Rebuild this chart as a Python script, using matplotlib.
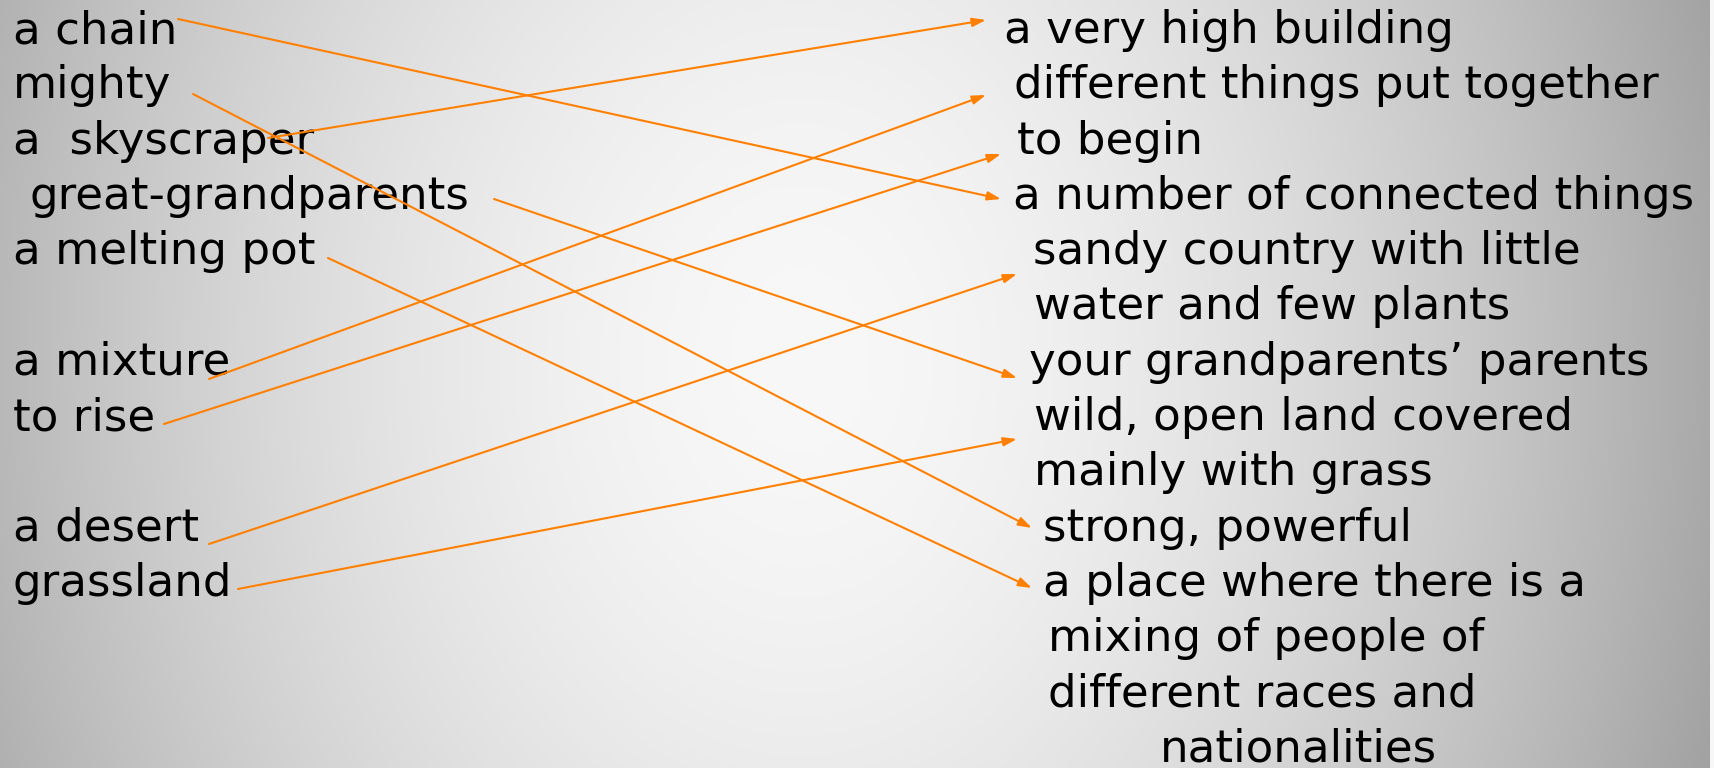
import numpy as np
import matplotlib
matplotlib.use("Agg")
import matplotlib.pyplot as plt
from matplotlib.patches import FancyArrowPatch, Rectangle
from matplotlib.patches import ArrowStyle

# ---------------- data ----------------
left_terms = ["a chain", "mighty", "a  skyscraper", "great-grandparents",
              "a melting pot", "a mixture", "to rise", "a desert", "grassland"]
left_rows = [0, 1, 2, 3, 4, 6, 7, 9, 10]

right_lines = ["a very high building", "different things put together", "to begin",
               "a number of connected things", "sandy country with little",
               "water and few plants", "your grandparents\u2019 parents",
               "wild, open land covered", "mainly with grass", "strong, powerful",
               "a place where there is a", "mixing of people of",
               "different races and", "nationalities"]

# (left term index, right line index) for each drawn arrow
matches = [(0, 3), (1, 9), (2, 0), (3, 6), (4, 10), (5, 1), (6, 2), (7, 4), (8, 7)]

# ---------------- layout (pixel coordinates) ----------------
W, H = 1715, 768
row0, row_step = 43, 55.3
left_x = [13, 13, 13, 30, 13, 13, 13, 13, 13]
right_x = [1004, 1014, 1017, 1013, 1033, 1034, 1029, 1034, 1034, 1043, 1043, 1048, 1048, 1160]
arrow_start = [(178, 19), (193, 94), (268, 138), (494, 199), (328, 258),
               (209, 379), (164, 424), (209, 544), (238, 589)]
arrow_end = [(1001, 199), (1032, 528), (986, 20), (1017, 378), (1032, 588),
             (986, 95), (1001, 154), (1017, 274), (1017, 439)]
FS = 32.5
ORANGE = "#FF8000"

fig = plt.figure(figsize=(W / 100, H / 100), dpi=100)
ax = fig.add_axes([0, 0, 1, 1])
ax.set_xlim(0, W)
ax.set_ylim(H, 0)
ax.axis("off")

# radial gradient background
yy, xx = np.mgrid[0:H, 0:W]
cx, cy, rx, ry = 800, 360, 950, 1250
r = np.sqrt(((xx - cx) / rx) ** 2 + ((yy - cy) / ry) ** 2)
v = np.clip(248 - 85 * r ** 1.7, 150, 255) / 255.0
img = np.dstack([v, v, v])
ax.imshow(img, extent=[0, W, H, 0], aspect="auto", zorder=0, interpolation="bilinear")
ax.add_patch(Rectangle((1710, 0), 5, H, facecolor="#f7f7f7", edgecolor="none", zorder=1))

for s, row, x in zip(left_terms, left_rows, left_x):
    ax.text(x, row0 + row_step * row, s, fontsize=FS, family="DejaVu Sans",
            ha="left", va="baseline", color="black", zorder=3)

for i, (s, x) in enumerate(zip(right_lines, right_x)):
    ax.text(x, row0 + row_step * i, s, fontsize=FS, family="DejaVu Sans",
            ha="left", va="baseline", color="black", zorder=3)

style = ArrowStyle("-|>", head_length=8, head_width=2.6)
for (li, ri), p0, p1 in zip(matches, arrow_start, arrow_end):
    arr = FancyArrowPatch(p0, p1, arrowstyle=style, mutation_scale=1,
                          color=ORANGE, lw=1.5, shrinkA=0, shrinkB=0, zorder=4)
    ax.add_patch(arr)

fig.savefig("out.png", dpi=100)
